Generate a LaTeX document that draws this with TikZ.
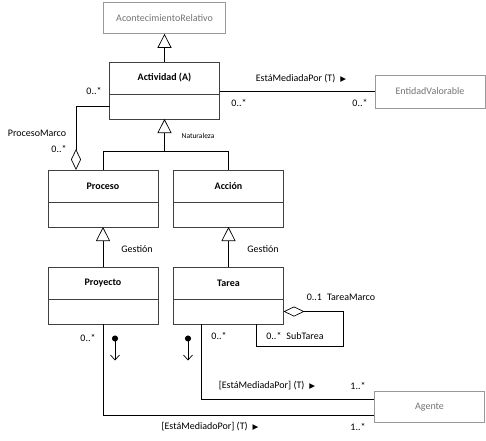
\documentclass[tikz,border=0pt]{standalone}
\usepackage{fontspec}
\setmainfont{Carlito}
\newfontfamily\symfont{DejaVu Sans}
\usetikzlibrary{positioning}
\usetikzlibrary{arrows.meta}

\newcommand{\dirmark}{{\symfont\fontsize{7.5}{8}\selectfont ▶}}

\begin{document}
\begin{tikzpicture}[x=1pt, y=-1pt, line width=0.7pt, font=\fontsize{10}{12}\selectfont,
    cls/.style={draw=black!75, minimum width=110pt, minimum height=32pt, inner sep=0pt, outer sep=0pt, font=\fontsize{10}{12}\selectfont\bfseries},
    clsbody/.style={draw=black!75, minimum width=110pt, minimum height=25pt, inner sep=0pt, outer sep=0pt},
    ext/.style={draw=black!40, text=black!55, minimum width=110pt, minimum height=31pt, inner sep=0pt},
    gen/.style={-{Triangle[open, length=14pt, width=14pt]}},
    agg/.style={{Diamond[open, length=21pt, width=10pt]}-},
    nav/.style={{Circle[length=6pt]}-{Straight Barb[length=5pt, width=9pt]}},
    lbl/.style={inner sep=0pt}]
    \useasboundingbox (0,0) rectangle (486,440);
    % Clases
    \node[ext, minimum width=122pt] (acont) at (164.5,18) {AcontecimientoRelativo};
    \node[cls] (act) at (164.5,78) {Actividad (A)};
    \node[clsbody, below=0pt of act] (actb) {};
    \node[ext, minimum height=33pt] (ev) at (430,91.5) {EntidadValorable};
    \node[cls] (proc) at (103,186) {Proceso};
    \node[clsbody, below=0pt of proc] (procb) {};
    \node[cls] (acc) at (228.5,186) {Acción};
    \node[clsbody, below=0pt of acc] (accb) {};
    \node[cls] (proy) at (103,283) {Proyecto};
    \node[clsbody, below=0pt of proy] (proyb) {};
    \node[cls] (tarea) at (228.5,283) {Tarea};
    \node[clsbody, below=0pt of tarea] (tareab) {};
    \node[ext] (agente) at (429.5,407) {Agente};
    % Generalizaciones
    \draw[gen] (act.north) -- (acont.south);
    \coordinate (natj) at (164.5,151);
    \draw (proc.north) |- (natj);
    \draw (acc.north) |- (natj);
    \draw[gen] (natj) -- (actb.south);
    \node[lbl, font=\fontsize{7.5}{9}\selectfont] (natl) at (198,136) {Naturaleza};
    \node[lbl] (gesp) at (137,249) {Gestión};
    \node[lbl] (gesa) at (263,249) {Gestión};
    \draw[gen] (proy.north) -- (procb.south);
    \draw[gen] (tarea.north) -- (accb.south);
    % Asociaciones
    \draw (act.east |- ev.west) -- (ev.west);
    \node[lbl] (medl) at (301,79) {EstáMediadaPor (T)\enspace\dirmark};
    \node[lbl] (m1) at (239,103) {0..*};
    \node[lbl] (m2) at (360,103) {0..*};
    \draw[agg] ([xshift=-27pt]proc.north) |- (actb.west);
    \node[lbl] (m3) at (94,91) {0..*};
    \node[lbl] (pml) at (37,133) {ProcesoMarco};
    \node[lbl] (m4) at (59,149) {0..*};
    \coordinate (tloop) at (343,346);
    \draw[agg] (tareab.east) -| (tloop) -| ([xshift=28pt]tareab.south);
    \node[lbl] (tml) at (341,297) {0..1\enspace TareaMarco};
    \node[lbl] (stl) at (295,336) {0..*\enspace SubTarea};
    \draw ([xshift=-27pt]tareab.south) |- ([yshift=8pt]agente.west);
    \node[lbl] (m5) at (219,336) {0..*};
    \node[lbl] (medt) at (267,386) {[EstáMediadaPor] (T)\enspace\dirmark};
    \node[lbl] (m6) at (358,386) {1..*};
    \draw (proyb.south) |- ([yshift=-8pt]agente.west);
    \node[lbl] (m7) at (88,338) {0..*};
    \node[lbl] (medp) at (210,427) {[EstáMediadoPor] (T)\enspace\dirmark};
    \node[lbl] (m8) at (358,427) {1..*};
    % Navegabilidad
    \coordinate (navp) at (115,335.5);
    \coordinate (navt) at (188,335.5);
    \draw[nav] (navp) -- ++(0,25);
    \draw[nav] (navt) -- ++(0,25);
\end{tikzpicture}
\end{document}
